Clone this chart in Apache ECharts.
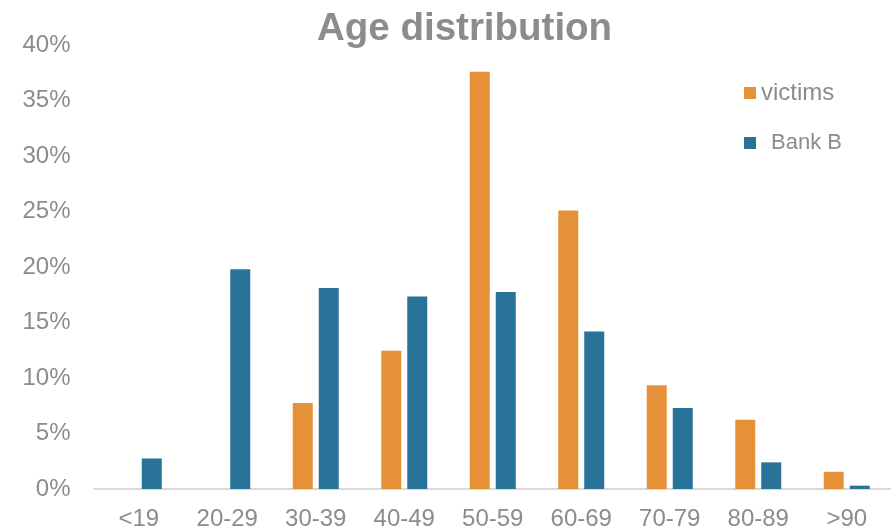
<!DOCTYPE html>
<html>
<head>
<meta charset="utf-8">
<script src="https://cdn.jsdelivr.net/npm/echarts@6/dist/echarts.min.js"></script>
<style>
  html, body { margin: 0; padding: 0; background: #ffffff; }
  #chart { width: 891px; height: 531px; }
</style>
</head>
<body>
<div id="chart"></div>
<script>
// Age groups on the x axis
var ageGroups = ['<19', '20-29', '30-39', '40-49', '50-59', '60-69', '70-79', '80-89', '>90'];

// Share of each age group, in percent
var victims = [null, null, 7.75, 12.45, 37.6, 25.1, 9.35, 6.25, 1.55];
var bankB = [2.75, 19.8, 18.1, 17.35, 17.75, 14.2, 7.3, 2.4, 0.3];

// Value axis ticks (percent)
var yTicks = [0, 5, 10, 15, 20, 25, 30, 35, 40];

var seriesNames = ['victims', 'Bank B'];
var titleText = 'Age distribution';

var ORANGE = '#E69137';
var BLUE = '#287397';
var GREY = '#8C8C8C';
var FONT = '"Liberation Sans", Arial, sans-serif';

var chart = echarts.init(document.getElementById('chart'), null, { renderer: 'canvas' });

chart.setOption({
  animation: false,
  backgroundColor: '#ffffff',
  title: {
    text: titleText,
    left: 312,
    top: 5,
    textStyle: { fontFamily: FONT, fontSize: 38.5, fontWeight: 'bold', color: GREY }
  },
  legend: {
    orient: 'vertical',
    left: 744,
    top: 81,
    padding: 0,
    itemWidth: 12,
    itemHeight: 12,
    itemGap: 27,
    icon: 'rect',
    data: seriesNames,
    formatter: function (name) {
      return name === 'Bank B' ? '{pad|' + name + '}' : name;
    },
    textStyle: {
      fontFamily: FONT, fontSize: 24, color: GREY,
      rich: { pad: { fontFamily: FONT, fontSize: 22, color: GREY, padding: [0, 0, 0, 10] } }
    }
  },
  grid: { left: 94.5, right: -4.5, top: 45, bottom: 41.5 },
  xAxis: {
    type: 'category',
    data: ageGroups,
    axisLine: { show: true, lineStyle: { color: '#D9D9D9', width: 2 } },
    axisTick: { show: false },
    axisLabel: { fontFamily: FONT, fontSize: 24, color: GREY, margin: 18 }
  },
  yAxis: {
    type: 'value',
    min: yTicks[0],
    max: yTicks[yTicks.length - 1],
    interval: yTicks[1] - yTicks[0],
    splitLine: { show: false },
    axisLine: { show: false },
    axisTick: { show: false },
    axisLabel: {
      fontFamily: FONT, fontSize: 24, color: GREY, margin: 24,
      padding: [5, 0, 0, 0],
      formatter: function (v) { return v + '%'; }
    }
  },
  series: [
    {
      name: seriesNames[0],
      type: 'bar',
      data: victims,
      barWidth: 20,
      barGap: '30%',
      itemStyle: { color: ORANGE }
    },
    {
      name: seriesNames[1],
      type: 'bar',
      data: bankB,
      barWidth: 20,
      barGap: '30%',
      itemStyle: { color: BLUE }
    }
  ]
});
</script>
</body>
</html>
